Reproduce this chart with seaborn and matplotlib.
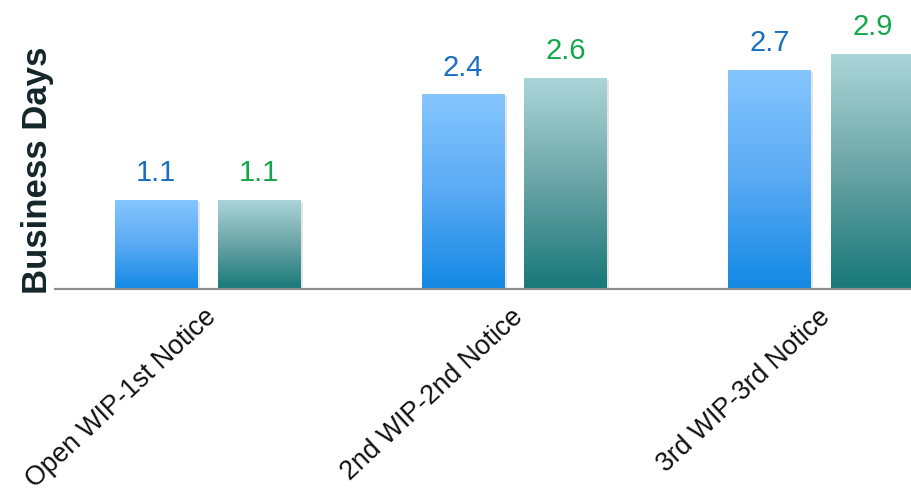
import numpy as np
import pandas as pd
import matplotlib
matplotlib.use("Agg")
import matplotlib.pyplot as plt
import matplotlib.patheffects as pe
from matplotlib.colors import LinearSegmentedColormap
from matplotlib.transforms import ScaledTranslation
import seaborn as sns

categories = ["Open WIP-1st Notice", "2nd WIP-2nd Notice", "3rd WIP-3rd Notice"]
series_names = ["Series A", "Series B"]
series_a = [1.1, 2.4, 2.7]
series_b = [1.1, 2.6, 2.9]

df = pd.DataFrame({
    "category": categories * 2,
    "series": [series_names[0]] * 3 + [series_names[1]] * 3,
    "value": series_a + series_b,
})

sns.set_theme(style="white")
plt.rcParams['font.family'] = ['Liberation Sans', 'DejaVu Sans']

fig = plt.figure(figsize=(9.12, 4.95), dpi=100)
ax = fig.add_axes([55 / 912, 1 - 289 / 495, (912 - 55) / 912, 289 / 495])

sns.barplot(data=df, x="category", y="value", hue="series", order=categories,
            hue_order=series_names, width=0.67, gap=0.194, ax=ax, legend=False,
            palette=["#4aa6f0", "#4a9a9a"], errorbar=None)

grads = [
    LinearSegmentedColormap.from_list("b", ["#1289e4", "#5aaaf4", "#86c6fe"]),
    LinearSegmentedColormap.from_list("t", ["#177878", "#6aa4a6", "#acd6d9"]),
]
label_colors = ["#1a70c0", "#12a84a"]

ax.set_ylim(0, 289 / 81.2)
ax.set_xlim(-0.498, 2.296)

patches = list(ax.patches)
grad = np.linspace(0, 1, 256).reshape(-1, 1)
for i, p in enumerate(patches):
    s = i // 3
    x0, y0 = p.get_x(), p.get_y()
    w, h = p.get_width(), p.get_height()
    p.set_path_effects([pe.SimplePatchShadow(offset=(1.5, -1.5), shadow_rgbFace="#aaaaaa", alpha=0.3), pe.Normal()])
    p.set_edgecolor("none")
    im = ax.imshow(grad, cmap=grads[s], origin="lower", aspect="auto",
                   extent=(x0, x0 + w, y0, y0 + h), zorder=p.get_zorder() + 0.1)
    im.set_clip_path(p)
    ax.annotate(f"{h:.1f}", (x0 + w / 2, y0 + h), xytext=(0, 9), textcoords="offset points",
                ha="center", va="bottom", fontsize=21, color=label_colors[s])

ax.set_xlim(-0.498, 2.296)
ax.set_ylim(0, 289 / 81.2)

for side in ["top", "right", "left"]:
    ax.spines[side].set_visible(False)
ax.spines["bottom"].set_color("#8c8c8c")
ax.spines["bottom"].set_linewidth(1.6)
ax.spines["bottom"].set_zorder(5)
ax.set_yticks([])
ax.set_xlabel("")
ax.set_ylabel("")
ax.tick_params(axis="x", length=0, pad=11)
ax.set_xticks(range(len(categories)))
ax.set_xticklabels(categories, rotation=43, ha="right", va="top",
                   rotation_mode="anchor", fontsize=19.2, color="#111111")
for lab in ax.get_xticklabels():
    lab.set_transform(lab.get_transform() + ScaledTranslation(-4 / 100, 0, fig.dpi_scale_trans))

fig.text(38 / 912, 1 - 170 / 495, "Business Days", rotation=90, ha="center", va="center",
         fontsize=25, fontweight="bold", color="#14262a")

fig.savefig("out.png", dpi=100)
